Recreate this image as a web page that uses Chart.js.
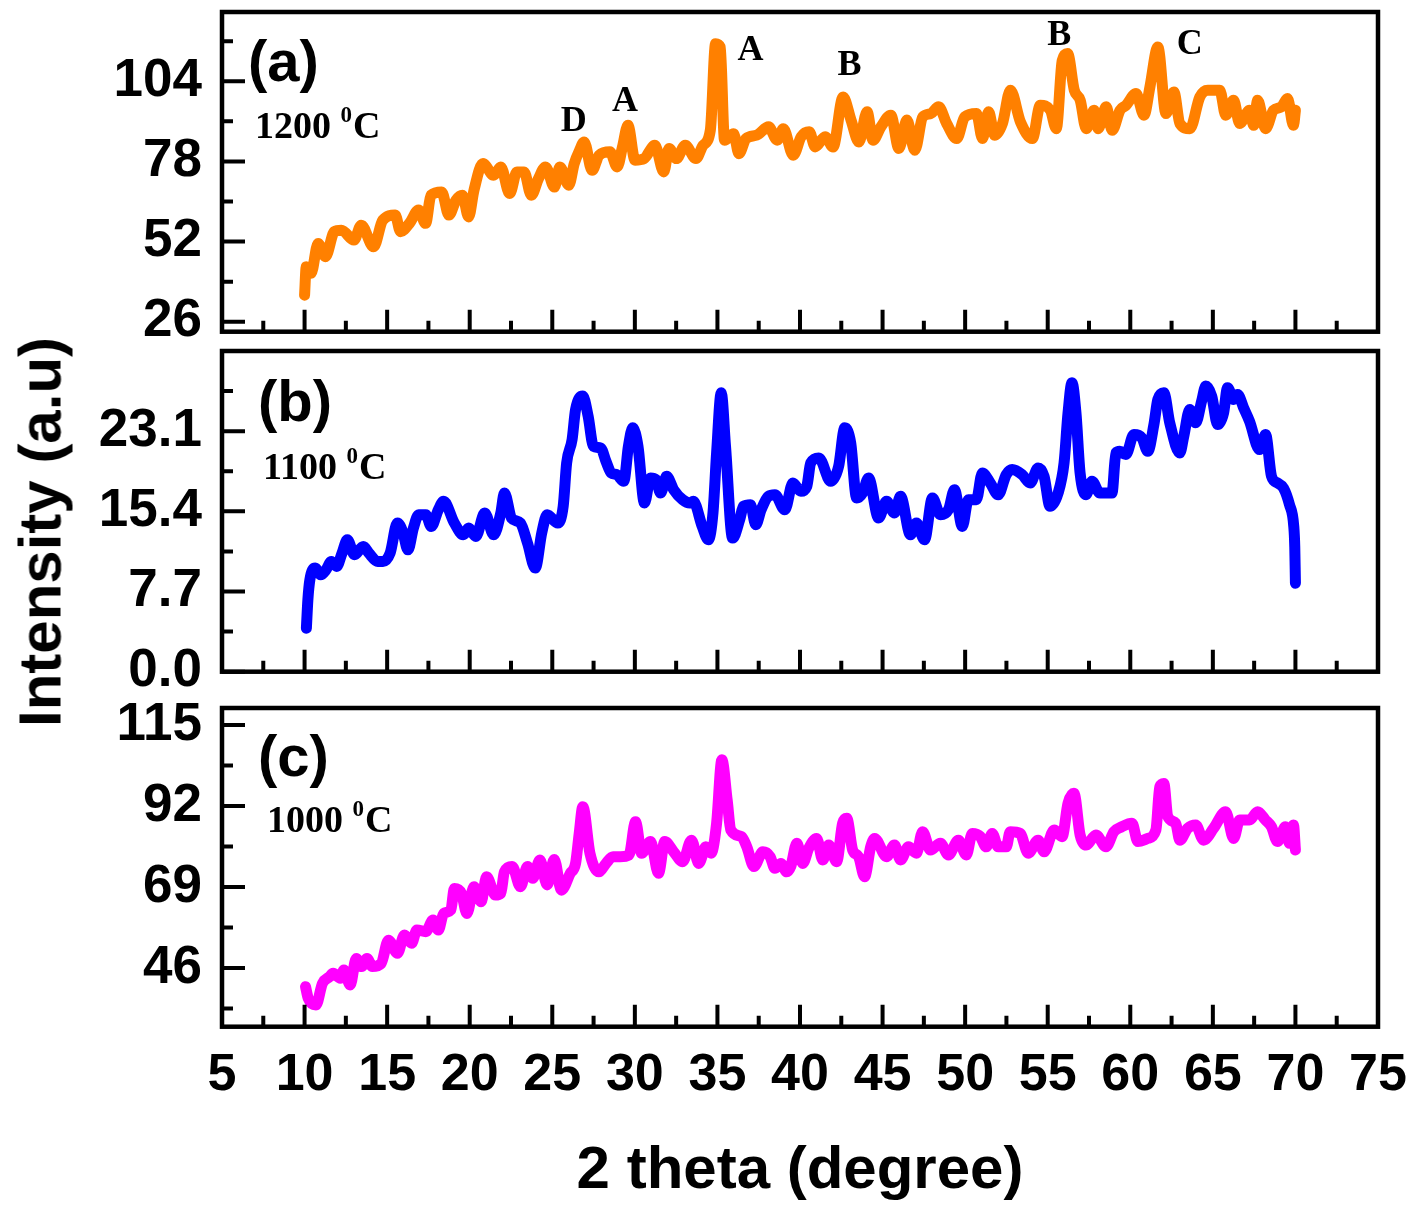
<!DOCTYPE html>
<html>
<head>
<meta charset="utf-8">
<script src="https://cdn.jsdelivr.net/npm/chart.js@4.4.0/dist/chart.umd.min.js"></script>
<style>
  body { margin: 0; background: #fff; }
  #wrap { position: relative; width: 1428px; height: 1209px; overflow: hidden; }
  canvas { position: absolute; left: 0; }
  #ytitle {
    position: absolute; left: 40px; top: 532px;
    transform: translate(-50%, -50%) rotate(-90deg);
    font: bold 60px 'Liberation Sans', Arial, sans-serif;
    white-space: nowrap; color: #000;
  }
</style>
</head>
<body>
<div id="wrap">
  <canvas id="panelA" width="1428" height="350" style="top:0px"></canvas>
  <canvas id="panelB" width="1428" height="372" style="top:340px"></canvas>
  <canvas id="panelC" width="1428" height="529" style="top:680px"></canvas>
  <div id="ytitle">Intensity (a.u)</div>
</div>
<script>
const SANS = "'Liberation Sans', Arial, sans-serif"
const SERIF = "'Liberation Serif', 'Times New Roman', serif"

// shared 2 theta axis
const xTicks = [5, 10, 15, 20, 25, 30, 35, 40, 45, 50, 55, 60, 65, 70, 75]

// (a) 1200 C
const xA = [10.0, 10.1, 10.39, 10.82, 11.26, 11.8, 12.23, 12.99, 13.43, 14.18, 14.73, 15.49, 15.81, 16.35, 16.9, 17.33, 17.65, 18.3, 18.74, 19.17, 19.56, 19.93, 20.26, 20.8, 21.45, 21.88, 22.42, 22.86, 23.29, 23.73, 24.16, 24.59, 25.13, 25.46, 26.0, 26.33, 26.65, 26.93, 27.41, 27.84, 28.49, 28.93, 29.25, 29.58, 30.01, 30.56, 31.21, 31.75, 32.07, 32.51, 33.05, 33.7, 34.13, 34.57, 34.89, 35.17, 35.43, 35.98, 36.3, 36.73, 37.38, 38.1, 38.62, 38.99, 39.59, 40.07, 40.56, 40.92, 41.52, 42.0, 42.61, 43.09, 43.57, 44.06, 44.42, 44.9, 45.5, 45.99, 46.47, 46.95, 47.43, 47.92, 48.4, 48.88, 49.49, 49.97, 50.69, 51.05, 51.42, 51.78, 52.26, 52.74, 53.35, 54.07, 54.55, 55.16, 55.52, 55.88, 56.2, 56.61, 56.97, 57.33, 57.81, 58.05, 58.54, 58.9, 59.38, 59.74, 60.35, 60.83, 61.19, 61.67, 62.16, 62.64, 63.0, 63.61, 64.21, 64.69, 65.42, 65.78, 66.26, 66.62, 67.23, 67.47, 67.71, 68.19, 68.67, 69.16, 69.52, 69.88, 70.0]
const yA = [34.6, 43.8, 41.7, 51.4, 47.1, 55.2, 55.7, 52.5, 57.3, 50.3, 58.9, 60.6, 55.2, 57.9, 62.2, 57.9, 67.0, 68.1, 60.6, 65.4, 67.0, 60.0, 68.7, 77.3, 73.5, 76.2, 67.6, 74.6, 74.6, 67.0, 72.4, 76.2, 69.7, 76.2, 70.3, 77.3, 81.6, 84.3, 75.1, 80.0, 81.1, 76.2, 82.7, 89.7, 78.4, 78.9, 83.2, 74.6, 82.2, 78.9, 83.2, 78.9, 83.2, 88.1, 116.2, 115.1, 84.9, 87.0, 80.5, 85.4, 86.5, 89.2, 84.9, 88.6, 80.0, 86.0, 87.6, 82.7, 86.0, 82.7, 98.9, 91.4, 84.3, 94.1, 84.9, 89.2, 93.0, 82.2, 91.4, 81.6, 92.4, 93.5, 95.7, 90.3, 85.4, 92.4, 93.5, 85.4, 94.1, 86.5, 90.3, 101.1, 90.8, 85.4, 96.2, 94.6, 88.6, 110.8, 113.0, 101.1, 97.8, 88.6, 94.6, 88.6, 95.7, 88.1, 94.6, 96.2, 100.0, 93.0, 102.2, 115.1, 93.5, 100.5, 90.3, 88.6, 98.9, 101.1, 101.1, 93.0, 97.8, 90.3, 94.6, 89.7, 97.8, 88.6, 94.6, 95.7, 98.4, 89.7, 94.6]
const yTicksA = [26, 52, 78, 104]
const noteLetters = ['D', 'A', 'A', 'B', 'B', 'C']
const noteX = [26.3, 29.4, 37.0, 43.0, 55.7, 63.6]
const noteY = [90.8, 97.3, 114.0, 109.2, 118.9, 115.7]

// (b) 1100 C
const xB = [10.11, 10.2, 10.32, 10.65, 10.97, 11.3, 11.62, 11.94, 12.27, 12.59, 13.02, 13.56, 13.89, 14.43, 14.75, 15.18, 15.62, 15.94, 16.26, 16.59, 16.91, 17.34, 17.67, 18.1, 18.42, 19.07, 19.61, 19.94, 20.37, 20.91, 21.45, 21.88, 22.1, 22.53, 23.07, 23.5, 23.97, 24.36, 24.69, 25.33, 25.66, 25.87, 26.2, 26.41, 26.85, 27.17, 27.49, 27.93, 28.25, 28.57, 28.9, 29.33, 29.61, 29.87, 30.19, 30.58, 30.95, 31.27, 31.56, 31.92, 32.35, 32.89, 33.33, 33.54, 34.08, 34.45, 34.73, 34.95, 35.23, 35.49, 35.92, 36.35, 36.57, 37.0, 37.32, 37.65, 38.08, 38.48, 39.08, 39.57, 40.05, 40.41, 40.65, 41.14, 41.86, 42.34, 42.71, 43.07, 43.43, 43.79, 44.15, 44.76, 45.24, 45.72, 46.09, 46.69, 47.05, 47.54, 48.02, 48.5, 48.99, 49.35, 49.83, 50.19, 50.68, 51.04, 51.52, 52.0, 52.49, 52.85, 53.45, 53.94, 54.42, 54.78, 55.14, 55.63, 55.99, 56.23, 56.47, 56.71, 56.96, 57.32, 57.68, 58.16, 58.89, 59.13, 59.37, 59.73, 60.22, 60.7, 61.06, 61.43, 61.67, 62.03, 62.39, 63.0, 63.24, 63.6, 63.96, 64.32, 64.57, 64.93, 65.29, 65.65, 65.89, 66.26, 66.5, 66.86, 67.22, 67.83, 68.19, 68.55, 68.91, 69.28, 69.64, 69.9, 69.96, 70.0]
const yB = [4.17, 6.9, 8.82, 9.95, 9.3, 9.78, 10.59, 10.11, 11.39, 12.67, 11.23, 12.03, 11.39, 10.59, 10.59, 11.39, 14.28, 13.47, 11.71, 13.79, 15.08, 15.08, 13.95, 15.56, 16.36, 14.28, 13.15, 13.79, 12.99, 15.24, 13.15, 15.24, 17.16, 14.76, 14.28, 12.35, 9.95, 13.31, 15.08, 14.28, 15.88, 20.05, 22.3, 25.18, 26.47, 24.54, 21.65, 21.49, 20.21, 19.09, 18.93, 18.29, 21.65, 23.42, 21.65, 16.2, 18.61, 18.45, 17.16, 18.77, 17.48, 16.52, 16.2, 16.36, 13.95, 12.67, 15.24, 21.01, 26.79, 21.65, 12.83, 14.6, 15.88, 16.04, 14.12, 15.56, 16.84, 17.0, 15.56, 18.13, 17.32, 17.8, 20.05, 20.53, 18.29, 19.73, 23.42, 21.98, 16.68, 17.16, 18.61, 14.76, 16.36, 15.24, 16.84, 13.15, 14.28, 12.67, 16.68, 15.08, 15.56, 17.48, 13.95, 16.52, 16.52, 19.09, 18.13, 17.0, 18.93, 19.41, 18.93, 18.13, 19.57, 18.77, 15.88, 17.16, 20.05, 24.86, 27.75, 24.86, 19.09, 17.0, 18.29, 17.16, 17.16, 21.01, 21.17, 20.85, 22.78, 22.46, 21.17, 23.74, 26.15, 26.79, 23.9, 21.01, 22.62, 25.18, 23.9, 25.99, 27.43, 26.47, 23.74, 24.86, 27.27, 26.15, 26.63, 25.35, 24.06, 21.33, 22.78, 18.77, 18.13, 17.64, 16.04, 13.95, 12.0, 8.5]
const yTicksB = [0.0, 7.7, 15.4, 23.1]

// (c) 1000 C
const xC = [10.06, 10.22, 10.69, 11.08, 11.51, 11.73, 12.16, 12.38, 12.76, 13.13, 13.46, 13.78, 14.1, 14.64, 15.08, 15.62, 16.05, 16.48, 16.8, 17.34, 17.78, 18.1, 18.42, 18.86, 19.07, 19.5, 19.83, 20.26, 20.69, 21.02, 21.56, 21.88, 22.1, 22.57, 23.07, 23.5, 23.82, 24.25, 24.69, 25.12, 25.55, 26.09, 26.41, 26.63, 26.85, 27.28, 27.82, 28.25, 28.68, 29.11, 29.65, 30.04, 30.41, 30.95, 31.43, 31.81, 32.35, 32.89, 33.43, 33.87, 34.3, 34.62, 34.95, 35.27, 35.59, 35.81, 36.46, 36.78, 37.21, 37.75, 38.19, 38.48, 38.84, 39.2, 39.44, 39.81, 40.17, 40.53, 41.01, 41.38, 41.74, 42.22, 42.58, 42.83, 43.19, 43.55, 43.91, 44.28, 44.52, 45.24, 45.72, 46.09, 46.57, 47.05, 47.42, 47.9, 48.5, 48.99, 49.59, 50.07, 50.43, 50.92, 51.28, 51.64, 52.0, 52.49, 52.73, 53.33, 53.82, 54.42, 54.78, 55.39, 55.87, 56.23, 56.59, 56.96, 57.32, 57.92, 58.53, 59.01, 59.49, 60.1, 60.46, 61.06, 61.55, 61.79, 62.03, 62.27, 62.75, 63.0, 63.48, 63.96, 64.44, 65.05, 65.77, 66.26, 66.62, 67.22, 67.71, 68.19, 68.55, 68.91, 69.4, 69.64, 69.88, 70.0]
const yC = [40.7, 37.4, 35.5, 41.6, 43.5, 44.5, 43.1, 45.4, 41.2, 48.7, 46.4, 48.7, 46.4, 47.3, 53.9, 50.2, 55.4, 53.0, 56.8, 56.3, 59.6, 56.8, 61.5, 62.5, 68.6, 67.2, 61.5, 69.1, 64.8, 71.9, 66.7, 67.2, 73.3, 74.8, 69.1, 74.8, 71.5, 76.7, 69.6, 76.8, 68.1, 72.9, 75.7, 84.2, 91.8, 78.6, 73.3, 75.7, 77.6, 77.6, 78.1, 87.5, 78.6, 81.9, 72.9, 81.9, 79.0, 76.2, 82.3, 75.7, 80.4, 78.6, 87.1, 105.1, 93.7, 85.2, 83.3, 80.4, 74.8, 79.0, 77.6, 74.3, 75.7, 73.3, 74.8, 81.4, 75.7, 80.0, 82.8, 76.7, 80.9, 76.2, 87.1, 88.5, 79.5, 77.6, 71.9, 80.4, 82.8, 77.6, 80.9, 76.7, 80.4, 78.6, 84.7, 79.5, 81.4, 78.1, 82.3, 78.1, 84.2, 83.3, 80.4, 84.2, 80.4, 80.4, 84.7, 84.2, 78.6, 82.3, 79.0, 85.2, 83.3, 92.8, 95.6, 83.8, 80.9, 83.8, 80.4, 84.7, 86.1, 87.1, 81.9, 82.8, 85.2, 97.5, 98.4, 89.0, 87.1, 82.3, 85.7, 86.6, 82.3, 85.7, 90.4, 82.8, 88.0, 88.0, 90.4, 88.0, 86.1, 81.9, 86.1, 81.4, 86.6, 79.5]
const yTicksC = [46, 69, 92, 115]

// box, inward ticks, panel tag, temperature and peak letters
const panelDecor = {
    id: 'panelDecor',
    afterDraw(chart, args, opts) {
        const ctx = chart.ctx
        const a = chart.chartArea
        const xs = chart.scales.x
        const ys = chart.scales.y
        ctx.save()
        ctx.strokeStyle = '#000'
        ctx.lineWidth = 4
        ctx.lineCap = 'butt'
        ctx.beginPath()
        for (let i = 0; i < xTicks.length * 2; i++) {
            const v = xTicks[0] + i * (xTicks[1] - xTicks[0]) / 2
            if (v <= xs.min || v >= xs.max) continue
            const px = xs.getPixelForValue(v)
            const len = i % 2 === 0 ? 22 : 11
            ctx.moveTo(px, a.bottom)
            ctx.lineTo(px, a.bottom - len)
        }
        const st = opts.yTicks[1] - opts.yTicks[0]
        for (let i = -4; i < 12; i++) {
            const v = opts.yTicks[0] + i * st / 2
            if (v < ys.min - 1e-6 || v >= ys.max) continue
            const py = ys.getPixelForValue(v)
            const len = i % 2 === 0 ? 23 : 11
            ctx.moveTo(a.left, py)
            ctx.lineTo(a.left + len, py)
        }
        ctx.stroke()
        ctx.lineWidth = 4.5
        ctx.strokeRect(a.left, a.top, a.right - a.left, a.bottom - a.top)

        ctx.fillStyle = '#000'
        ctx.textBaseline = 'middle'
        ctx.textAlign = 'left'
        ctx.font = 'bold 58px ' + SANS
        ctx.fillText(opts.tag, a.left + opts.tagPos[0], a.top + opts.tagPos[1])

        let tx = a.left + opts.tempPos[0]
        const ty = a.top + opts.tempPos[1]
        ctx.font = 'bold 38px ' + SERIF
        ctx.fillText(opts.temp + ' ', tx, ty)
        tx += ctx.measureText(opts.temp + ' ').width
        ctx.font = 'bold 23px ' + SERIF
        ctx.fillText('0', tx, ty - 12)
        tx += ctx.measureText('0').width + 1
        ctx.font = 'bold 38px ' + SERIF
        ctx.fillText('C', tx, ty)

        if (opts.notes) {
            ctx.textAlign = 'center'
            ctx.font = 'bold 36px ' + SERIF
            opts.notes.letters.forEach((t, i) => {
                ctx.fillText(t, xs.getPixelForValue(opts.notes.x[i]), ys.getPixelForValue(opts.notes.y[i]))
            })
        }
        ctx.restore()
    }
}

function makePanel(id, xs, ys, color, yMin, yMax, yTicks, decimals, deco, showX, pad) {
    const points = xs.map((v, i) => ({ x: v, y: ys[i] }))
    return new Chart(document.getElementById(id), {
        type: 'line',
        data: {
            datasets: [{
                data: points,
                borderColor: color,
                borderWidth: 11,
                pointRadius: 0,
                fill: false,
                cubicInterpolationMode: 'monotone',
                borderJoinStyle: 'round',
                borderCapStyle: 'round'
            }]
        },
        options: {
            responsive: false,
            animation: false,
            events: [],
            layout: { padding: pad },
            plugins: {
                legend: { display: false },
                tooltip: { enabled: false },
                panelDecor: deco
            },
            scales: {
                x: {
                    type: 'linear',
                    min: 5,
                    max: 75,
                    display: showX,
                    grid: { display: false, drawTicks: false },
                    border: { display: false },
                    afterBuildTicks: s => { s.ticks = xTicks.map(v => ({ value: v })) },
                    afterFit: s => {
                        if (showX) s.height = 182.3
                        s.paddingLeft = 0
                        s.paddingRight = 0
                    },
                    ticks: {
                        autoSkip: false,
                        maxRotation: 0,
                        padding: 18,
                        color: '#000',
                        font: { family: SANS, size: 52, weight: 'bold' }
                    },
                    title: {
                        display: true,
                        text: '2 theta (degree)',
                        color: '#000',
                        padding: { top: 0, bottom: 2 },
                        font: { family: SANS, size: 60, weight: 'bold' }
                    }
                },
                y: {
                    min: yMin,
                    max: yMax,
                    grid: { display: false, drawTicks: false },
                    border: { display: false },
                    afterBuildTicks: s => { s.ticks = yTicks.map(v => ({ value: v })) },
                    afterFit: s => {
                        s.width = 222
                        s.paddingTop = 0
                        s.paddingBottom = 0
                    },
                    ticks: {
                        padding: 20,
                        color: '#000',
                        font: { family: SANS, size: 53, weight: 'bold' },
                        callback: v => Number(v).toFixed(decimals)
                    }
                }
            }
        },
        plugins: [panelDecor]
    })
}

makePanel('panelA', xA, yA, '#ff8000', 22.76, 126.46, yTicksA, 0, {
    yTicks: yTicksA, tag: '(a)', tagPos: [26, 53], temp: '1200', tempPos: [33, 116],
    notes: { letters: noteLetters, x: noteX, y: noteY }
}, false, { top: 12, bottom: 18.3, left: 0, right: 50 })

makePanel('panelB', xB, yB, '#0000ff', 0, 30.8, yTicksB, 1, {
    yTicks: yTicksB, tag: '(b)', tagPos: [36, 54], temp: '1100', tempPos: [41, 118]
}, false, { top: 11, bottom: 40.3, left: 0, right: 50 })

makePanel('panelC', xC, yC, '#ff00ff', 29.33, 119.83, yTicksC, 0, {
    yTicks: yTicksC, tag: '(c)', tagPos: [36, 52], temp: '1000', tempPos: [45, 114]
}, true, { top: 28, bottom: 0, left: 0, right: 50 })
</script>
</body>
</html>
